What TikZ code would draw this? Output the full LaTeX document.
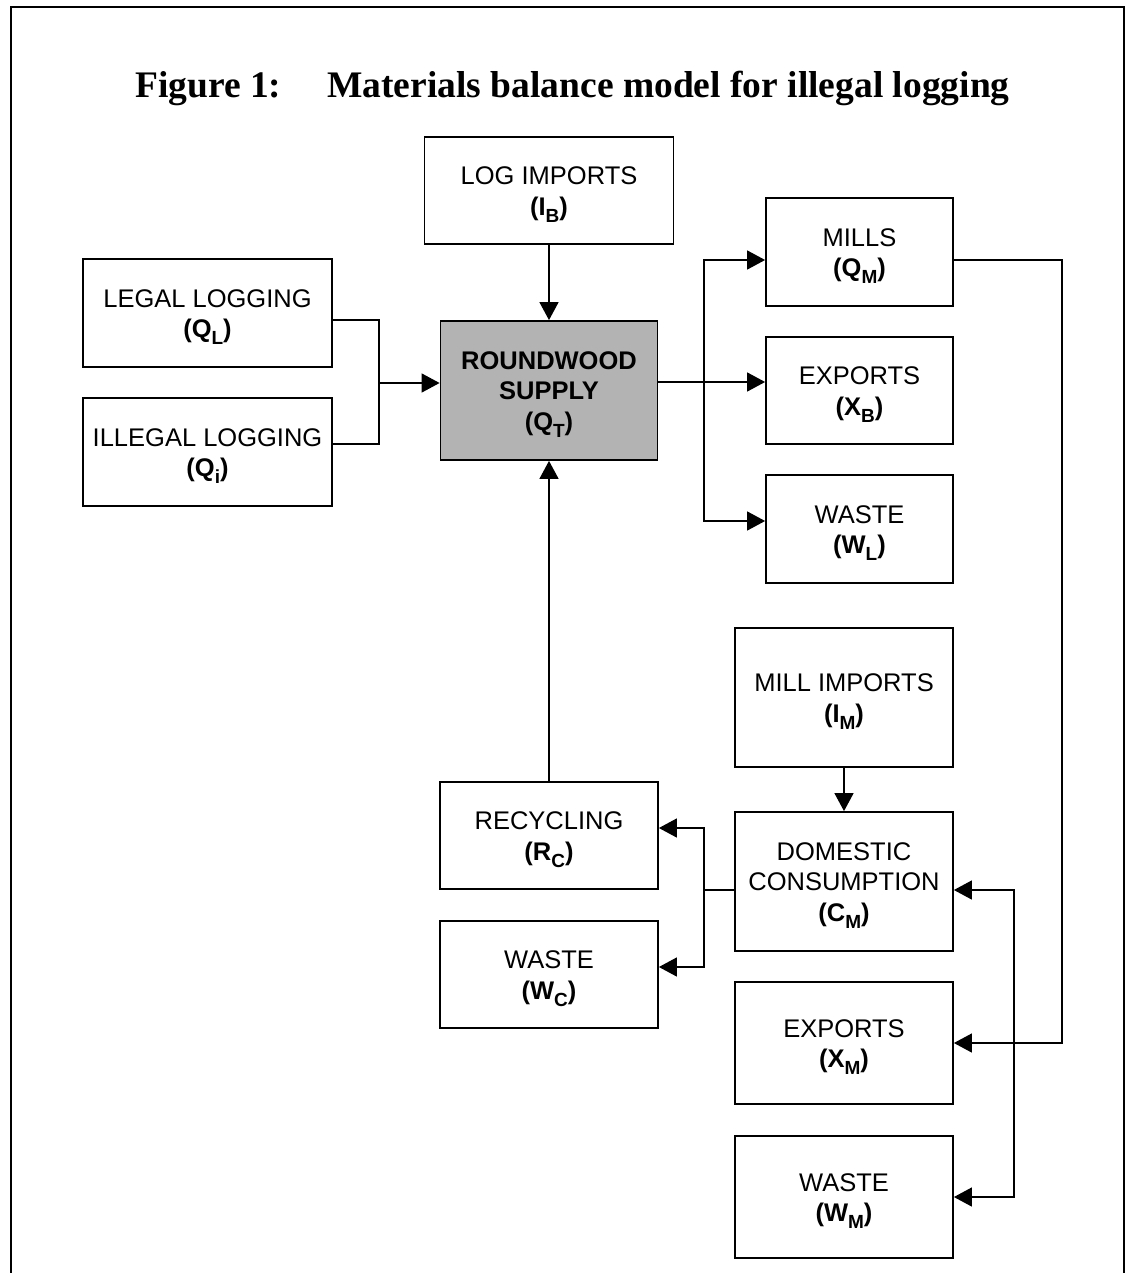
\documentclass[tikz,border=0pt]{standalone}
\usepackage{fontspec}
\setmainfont{Liberation Sans}
\newfontfamily\titlefont{Liberation Serif}
\usetikzlibrary{arrows.meta}
\definecolor{rwgray}{RGB}{179,179,179}
\newcommand\sbs[1]{\raisebox{-7pt}{\fontsize{19}{19}\selectfont #1}}
\begin{document}
\begin{tikzpicture}[x=1pt,y=-1pt,
  box/.style={draw=black, line width=1.8pt, fill=white, inner sep=0pt},
  lbl/.style={align=center, inner sep=0pt, yshift=-4pt,
    font=\fontsize{25.5}{30.5}\selectfont},
  conn/.style={line width=1.4pt},
  arr/.style={conn, -{Triangle[length=18pt,width=19pt]}},
  frameline/.style={line width=2pt}
]
\useasboundingbox (0,0) rectangle (1125,1273);
\draw[frameline] (11,1273) -- (11,7.5) -- (1124,7.5) -- (1124,1273);

\node[anchor=base west, inner sep=0pt, font=\titlefont\bfseries\fontsize{37.5}{40}\selectfont] (title) at (135,98)
  {Figure 1:\hspace*{46pt}Materials balance model for illegal logging};

% boxes
\node[box, minimum width=249pt, minimum height=107pt,
  label={[lbl]center:{LOG IMPORTS\\\textbf{(I\sbs{B})}}}] (logimp) at (549,190.5) {};
\node[box, minimum width=249pt, minimum height=108pt,
  label={[lbl]center:{LEGAL LOGGING\\\textbf{(Q\sbs{L})}}}] (legal) at (207.5,313) {};
\node[box, minimum width=249pt, minimum height=108pt,
  label={[lbl]center:{ILLEGAL LOGGING\\\textbf{(Q\sbs{i})}}}] (illegal) at (207.5,452) {};
\node[box, fill=rwgray, minimum width=217pt, minimum height=139pt,
  label={[lbl]center:{\textbf{ROUNDWOOD}\\\textbf{SUPPLY}\\\textbf{(Q\sbs{T})}}}] (rw) at (549,390.5) {};
\node[box, minimum width=187pt, minimum height=108pt,
  label={[lbl]center:{MILLS\\\textbf{(Q\sbs{M})}}}] (mills) at (859.5,252) {};
\node[box, minimum width=187pt, minimum height=107pt,
  label={[lbl]center:{EXPORTS\\\textbf{(X\sbs{B})}}}] (expB) at (859.5,390.5) {};
\node[box, minimum width=187pt, minimum height=108pt,
  label={[lbl]center:{WASTE\\\textbf{(W\sbs{L})}}}] (wasteL) at (859.5,529) {};
\node[box, minimum width=218pt, minimum height=139pt,
  label={[lbl]center:{MILL IMPORTS\\\textbf{(I\sbs{M})}}}] (millimp) at (844,697.5) {};
\node[box, minimum width=218pt, minimum height=139pt,
  label={[lbl]center:{DOMESTIC\\CONSUMPTION\\\textbf{(C\sbs{M})}}}] (dom) at (844,881.5) {};
\node[box, minimum width=218pt, minimum height=122pt,
  label={[lbl]center:{EXPORTS\\\textbf{(X\sbs{M})}}}] (expM) at (844,1043) {};
\node[box, minimum width=218pt, minimum height=122pt,
  label={[lbl]center:{WASTE\\\textbf{(W\sbs{M})}}}] (wasteM) at (844,1197) {};
\node[box, minimum width=218pt, minimum height=107pt,
  label={[lbl]center:{RECYCLING\\\textbf{(R\sbs{C})}}}] (recyc) at (549,835.5) {};
\node[box, minimum width=218pt, minimum height=107pt,
  label={[lbl]center:{WASTE\\\textbf{(W\sbs{C})}}}] (wasteC) at (549,974.5) {};

% junction coordinates
\coordinate (jn) at (379,383);
\coordinate (fk) at (704,382);
\coordinate (fc) at (704,890);
\coordinate (rx) at (1062,260);
\coordinate (vc) at (1014,1043);

% connectors
\draw[arr] (logimp.south) -- (rw.north);
\draw[conn] (legal.east |- rw.north) -| (jn);
\draw[conn] ([yshift=8pt]illegal.east) -| (jn);
\draw[arr] (jn) -- (jn -| rw.west);
\draw[arr] ([yshift=8.5pt]rw.east) -- ([yshift=8.5pt]expB.west);
\draw[arr] (fk) |- ([yshift=-8pt]mills.west);
\draw[arr] (fk) |- ([yshift=8pt]wasteL.west);
\draw[arr] ([yshift=-8pt]mills.east) -- (rx) |- (expM.east);
\draw[arr] (millimp.south) -- (dom.north);
\draw[conn] ([yshift=-8.5pt]dom.west) -- (fc);
\draw[arr] (fc) |- ([yshift=7.5pt]recyc.east);
\draw[arr] (fc) |- ([yshift=7.5pt]wasteC.east);
\draw[arr] (vc) |- ([yshift=-8.5pt]dom.east);
\draw[arr] (vc) |- (wasteM.east);
\draw[arr] (recyc.north) -- (rw.south);
\end{tikzpicture}
\end{document}
